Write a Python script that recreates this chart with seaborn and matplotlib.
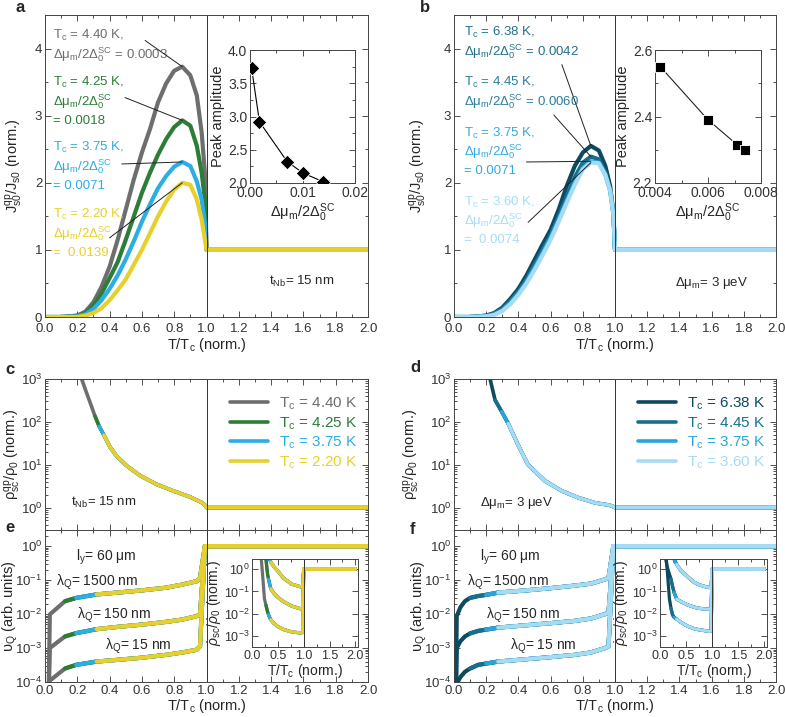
import numpy as np
import seaborn as sns
from matplotlib import pyplot as plt
from matplotlib.ticker import (MultipleLocator, LogLocator, NullFormatter, NullLocator,
                               FormatStrFormatter)

# ---------------- data ----------------
# panels a / b : J_s0^qp / J_s0 versus T/Tc
t_ab = [0, 0.1, 0.2, 0.25, 0.3, 0.35, 0.4, 0.45, 0.5, 0.55, 0.6, 0.65, 0.7, 0.75,
        0.8, 0.85, 0.9, 0.94, 0.97, 0.99, 1.0, 1.5, 2.0]
j_440 = [0, 0, 0.02, 0.08, 0.22, 0.45, 0.75, 1.15, 1.6, 2.05, 2.45, 2.8, 3.2, 3.48,
         3.67, 3.73, 3.6, 3.3, 2.75, 2.15, 1.0, 1.0, 1.0]
j_425 = [0, 0, 0.02, 0.06, 0.17, 0.35, 0.58, 0.82, 1.15, 1.5, 1.85, 2.15, 2.42, 2.65,
         2.83, 2.93, 2.85, 2.55, 2.15, 1.75, 1.0, 1.0, 1.0]
j_375 = [0, 0, 0.01, 0.04, 0.12, 0.25, 0.42, 0.62, 0.86, 1.13, 1.42, 1.68, 1.92, 2.1,
         2.24, 2.31, 2.25, 2.02, 1.75, 1.4, 1.0, 1.0, 1.0]
j_220 = [0, 0, 0.0, 0.02, 0.06, 0.13, 0.25, 0.4, 0.56, 0.78, 1.0, 1.25, 1.5, 1.72,
         1.9, 2.0, 1.97, 1.75, 1.45, 1.15, 1.0, 1.0, 1.0]
j_638 = [0, 0, 0.02, 0.06, 0.14, 0.27, 0.42, 0.62, 0.85, 1.08, 1.3, 1.6, 1.95, 2.25,
         2.45, 2.55, 2.48, 2.25, 1.95, 1.55, 1.0, 1.0, 1.0]
j_445 = [0, 0, 0.02, 0.05, 0.12, 0.24, 0.38, 0.56, 0.78, 1.0, 1.22, 1.5, 1.8, 2.08,
         2.3, 2.39, 2.35, 2.15, 1.9, 1.55, 1.0, 1.0, 1.0]
j_375b = [0, 0, 0.01, 0.04, 0.1, 0.21, 0.35, 0.52, 0.73, 0.95, 1.18, 1.45, 1.73, 2.0,
          2.22, 2.32, 2.3, 2.12, 1.88, 1.52, 1.0, 1.0, 1.0]
j_360 = [0, 0, 0.01, 0.03, 0.09, 0.19, 0.33, 0.5, 0.7, 0.92, 1.15, 1.42, 1.7, 1.97,
         2.2, 2.3, 2.29, 2.12, 1.88, 1.52, 1.0, 1.0, 1.0]

tc_a = ['4.40', '4.25', '3.75', '2.20']
ratio_a = ['0.0003', '0.0018', '0.0071', ' 0.0139']
tc_b = ['6.38', '4.45', '3.75', '3.60']
ratio_b = ['0.0042', '0.0060', '0.0071', ' 0.0074']

# insets a / b : peak amplitude
dmu_a = [0.0003, 0.0018, 0.0071, 0.0101, 0.0139]
peak_a = [3.73, 2.92, 2.32, 2.15, 2.02]
dmu_b = [0.0042, 0.0060, 0.0071, 0.0074]
peak_b = [2.55, 2.39, 2.315, 2.30]

# panels c / d : rho_sc^qp / rho_0
c_t = [0.21, 0.227, 0.258, 0.289, 0.31, 0.336, 0.365, 0.402, 0.443, 0.505, 0.588,
       0.691, 0.794, 0.897, 0.969, 0.99, 1.0, 2.0]
c_rho = [2000, 1000, 468, 224, 135, 78, 49, 26, 16, 9.5, 5.6, 3.5, 2.45, 1.78, 1.32,
         1.15, 1.0, 1.0]
c_start = [0.21, 0.31, 0.336, 0.365]
d_t = [0.21, 0.224, 0.255, 0.296, 0.337, 0.40, 0.46, 0.565, 0.669, 0.772, 0.876,
       0.96, 0.985, 1.0, 2.0]
d_rho = [2000, 1000, 324, 174, 91, 28, 10, 4.2, 2.45, 1.7, 1.29, 1.15, 1.08, 1.0, 1.0]
d_start = [0.21, 0.255, 0.296, 0.337]

# panels e / f : nu_Q for three lambda_Q
e_t = [0.02, 0.03, 0.124, 0.193, 0.32, 0.45, 0.6, 0.75, 0.85, 0.939, 0.96, 0.99, 2.0]
e_1500 = [1e-5, 9.8e-3, 2.4e-2, 3.0e-2, 3.8e-2, 4.3e-2, 5.0e-2, 6.0e-2, 7.4e-2,
          9.3e-2, 0.117, 1.0, 1.0]
e_150 = [1e-5, 1.0e-3, 2.2e-3, 2.75e-3, 3.6e-3, 4.2e-3, 4.9e-3, 5.9e-3, 6.9e-3,
         8.7e-3, 1.0e-2, 1.0, 1.0]
e_15 = [8.9e-5, 1.1e-4, 2.5e-4, 3.2e-4, 4.0e-4, 4.5e-4, 5.2e-4, 6.3e-4, 7.4e-4,
        8.9e-4, 1.12e-3, 1.0, 1.0]
e_start = [0.02, 0.124, 0.193, 0.32]
f_t = [0.01, 0.017, 0.04, 0.068, 0.1, 0.15, 0.2, 0.275, 0.45, 0.6, 0.75, 0.85, 0.938,
       0.96, 0.99, 2.0]
f_1500 = [1e-5, 8.7e-3, 1.6e-2, 2.4e-2, 3.0e-2, 3.4e-2, 3.7e-2, 4.3e-2, 5.0e-2, 5.8e-2,
          6.9e-2, 7.9e-2, 0.105, 0.117, 1.0, 1.0]
f_150 = [1e-5, 1.0e-3, 1.6e-3, 2.2e-3, 2.7e-3, 3.2e-3, 3.5e-3, 4.0e-3, 4.7e-3, 5.4e-3,
         6.3e-3, 7.4e-3, 1.0e-2, 1.12e-2, 1.0, 1.0]
f_15 = [6.3e-5, 8.9e-5, 1.4e-4, 2.0e-4, 2.5e-4, 3.2e-4, 3.5e-4, 4.0e-4, 4.7e-4, 5.4e-4,
        6.3e-4, 7.4e-4, 1.0e-3, 1.12e-3, 1.0, 1.0]
f_start = [0.01, 0.1, 0.2, 0.275]
lambda_q = ['1500', '150', '15']

# insets e / f : rho*_sc / rho*_0
ie_t = [0.15, 0.18, 0.21, 0.24, 0.27, 0.30, 0.32, 0.34, 0.365, 0.42, 0.49, 0.61, 0.77,
        0.95, 0.98, 1.0, 2.0]
ie_top = [200, 80, 40, 20, 10, 6, 4, 2.8, 2.0, 1.3, 0.85, 0.39, 0.21, 0.158, 0.17, 1.0, 1.0]
ie_mid = [60, 20, 10, 5, 2.75, 0.6, 0.35, 0.22, 0.13, 0.085, 0.057, 0.035, 0.022, 0.0166,
          0.018, 1.0, 1.0]
ie_bot = [8, 2.75, 0.4, 0.048, 0.024, 0.0126, 0.009, 0.007, 0.0054, 0.0038, 0.0028, 0.002,
          0.00155, 0.0014, 0.0015, 1.0, 1.0]
ie_start = [0.15, 0.27, 0.32, 0.365]
if_t = [0.05, 0.1, 0.14, 0.18, 0.21, 0.24, 0.27, 0.32, 0.4, 0.53, 0.65, 0.72, 0.84,
        0.94, 0.98, 1.0, 2.0]
if_top = [500, 100, 30, 12, 6, 3.8, 2.75, 1.6, 0.85, 0.45, 0.26, 0.21, 0.17, 0.148, 0.16,
          1.0, 1.0]
if_mid = [80, 4, 1.2, 0.6, 0.36, 0.17, 0.09, 0.045, 0.035, 0.025, 0.02, 0.018, 0.0165,
          0.016, 0.017, 1.0, 1.0]
if_bot = [500, 8, 0.8, 0.048, 0.018, 0.009, 0.007, 0.0058, 0.0042, 0.0028, 0.0022, 0.002,
          0.0018, 0.00165, 0.0017, 1.0, 1.0]
if_start = [0.05, 0.2, 0.27, 0.32]

cols_a = ['#6e6e6e', '#2b7d37', '#2badE6', '#e8d02c']
cols_b = ['#0c4a60', '#166f8d', '#2aa4dc', '#a5dbf3']
txt_b = ['#23708d', '#2a7d9e', '#34aae2', '#a8dcf5']

# ---------------- style ----------------
sns.set_style('ticks')
plt.rcParams['font.family'] = ['Liberation Sans', 'DejaVu Sans']
plt.rcParams['mathtext.fontset'] = 'custom'
plt.rcParams['mathtext.rm'] = 'Liberation Sans'
plt.rcParams['mathtext.it'] = 'Liberation Sans:italic'
plt.rcParams['mathtext.bf'] = 'Liberation Sans:bold'

W, H = 785, 717
fig = plt.figure(figsize=(W / 100, H / 100), dpi=100)


def add_ax(l, t, r, b):
    return fig.add_axes([l / W, 1 - b / H, (r - l) / W, (b - t) / H])


def style(ax, fs=9.5):
    ax.tick_params(which='both', direction='in', top=True, right=True, labelsize=fs,
                   width=0.6, pad=2, colors='#333333')
    ax.tick_params(axis='x', which='major', pad=4)
    ax.tick_params(which='major', length=4)
    ax.tick_params(which='minor', length=2)
    for s in ax.spines.values():
        s.set_linewidth(0.7)
        s.set_color('#444444')


def line(ax, x, y, color, lw, label=None):
    sns.lineplot(x=np.asarray(x), y=np.asarray(y), ax=ax, color=color, lw=lw, sort=False,
                 estimator=None, legend=False, label=label)


def segmented(ax, t, curves, starts, colors, lw, labels=None):
    t = np.asarray(t)
    for i, (start, color) in enumerate(zip(starts, colors)):
        keep = t >= start
        for k, y in enumerate(curves):
            lab = labels[i] if (labels is not None and k == 0) else None
            line(ax, t[keep], np.asarray(y)[keep], color, lw, lab)


def letter(x, y, s):
    fig.text(x / W, 1 - y / H, s, weight='bold', fontsize=12, va='center', ha='left')


def tc_text(tc):
    return r'$\mathregular{T_c}$ = ' + tc + ' K'


xlab = r'T/$\mathregular{T_c}$ (norm.)'
dmu_lab = r'Δμ$_\mathregular{m}$/2$\mathregular{Δ_0^{SC}}$'


def main_linear(ax, curves, colors):
    for y, c in zip(curves, colors):
        line(ax, t_ab, y, c, 3.0)
    ax.axvline(1.0, color='#333333', lw=0.7)
    ax.set_xlim(0, 2)
    ax.set_ylim(0, 4.5)
    ax.xaxis.set_major_locator(MultipleLocator(0.2))
    ax.xaxis.set_minor_locator(MultipleLocator(0.1))
    ax.xaxis.set_major_formatter(FormatStrFormatter('%.1f'))
    ax.yaxis.set_major_locator(MultipleLocator(1))
    ax.yaxis.set_minor_locator(MultipleLocator(0.5))
    ax.set_xlabel(xlab, fontsize=10.5, labelpad=1)
    ax.set_ylabel(r'$\mathregular{J_{s0}^{qp}/J_{s0}}$ (norm.)', fontsize=10.5)
    style(ax)


def labels_with_leaders(ax, curves, tcs, ratios, colors, x0, ys, starts, one_line, dy):
    t = np.asarray(t_ab)
    for y_curve, tc, r, c, y0, st, single in zip(curves, tcs, ratios, colors, ys, starts,
                                                 one_line):
        if single:
            rows = [tc_text(tc) + ',', dmu_lab + ' = ' + r]
        else:
            rows = [tc_text(tc) + ',', dmu_lab, '= ' + r]
        for i, row in enumerate(rows):
            ax.text(x0, y0 - i * dy, row, color=c, fontsize=9.5, va='center', ha='left')
        k = int(np.argmax(y_curve))
        ax.annotate('', xy=(t[k], y_curve[k]), xytext=st,
                    arrowprops=dict(arrowstyle='-', color='#222222', lw=0.7,
                                    shrinkA=0, shrinkB=0))


# ---------------- panel a ----------------
ax_a = add_ax(45, 15, 368, 317)
curves_a = [j_440, j_425, j_375, j_220]
main_linear(ax_a, curves_a, cols_a)
ax_a.yaxis.set_label_coords(-0.062, 0.5)
labels_with_leaders(ax_a, curves_a, tc_a, ratio_a, cols_a, 0.05,
                    [4.19, 3.49, 2.52, 1.53],
                    [(0.62, 4.12), (0.495, 3.27), (0.475, 2.28), (0.40, 1.18)],
                    [True, False, False, False], 0.285)
ax_a.text(1.39, 0.53, r't$_\mathregular{Nb}$= 15 nm', fontsize=9.5, va='center')

ins_a = add_ax(250, 50, 355, 183)
line(ins_a, dmu_a, peak_a, 'k', 0.8)
sns.scatterplot(x=dmu_a, y=peak_a, ax=ins_a, marker='D', s=55, color='k', zorder=3)
ins_a.set_xlim(0, 0.02)
ins_a.set_ylim(2.0, 4.0)
ins_a.xaxis.set_major_locator(MultipleLocator(0.01))
ins_a.xaxis.set_minor_locator(MultipleLocator(0.005))
ins_a.xaxis.set_major_formatter(FormatStrFormatter('%.2f'))
ins_a.yaxis.set_major_locator(MultipleLocator(0.5))
ins_a.yaxis.set_minor_locator(MultipleLocator(0.25))
ins_a.yaxis.set_major_formatter(FormatStrFormatter('%.1f'))
ins_a.set_xlabel(dmu_lab, fontsize=10.5, labelpad=1)
ins_a.set_ylabel('Peak amplitude', fontsize=10.5, labelpad=2)
style(ins_a, 10)
ins_a.tick_params(axis='x', which='major', pad=2)

# ---------------- panel b ----------------
ax_b = add_ax(454, 15, 776, 317)
curves_b = [j_638, j_445, j_375b, j_360]
main_linear(ax_b, curves_b, cols_b)
ax_b.yaxis.set_label_coords(-0.078, 0.5)
labels_with_leaders(ax_b, curves_b, tc_b, ratio_b, txt_b, 0.06,
                    [4.24, 3.49, 2.74, 1.71],
                    [(0.67, 3.76), (0.62, 3.01), (0.45, 2.31), (0.46, 1.41)],
                    [True, True, False, False], 0.28)
ax_b.text(1.37, 0.51, r'Δμ$_\mathregular{m}$= 3 μeV', fontsize=9.5, va='center')

ins_b = add_ax(655, 50, 761, 183)
line(ins_b, dmu_b, peak_b, '#222222', 0.8)
sns.scatterplot(x=dmu_b, y=peak_b, ax=ins_b, marker='s', s=60, color='k', zorder=3)
ins_b.set_xlim(0.004, 0.008)
ins_b.set_ylim(2.2, 2.6)
ins_b.xaxis.set_major_locator(MultipleLocator(0.002))
ins_b.xaxis.set_minor_locator(MultipleLocator(0.001))
ins_b.xaxis.set_major_formatter(FormatStrFormatter('%.3f'))
ins_b.yaxis.set_major_locator(MultipleLocator(0.2))
ins_b.yaxis.set_minor_locator(MultipleLocator(0.1))
ins_b.yaxis.set_major_formatter(FormatStrFormatter('%.1f'))
ins_b.set_xlabel(dmu_lab, fontsize=10.5, labelpad=1)
ins_b.set_ylabel('Peak amplitude', fontsize=10.5, labelpad=2)
style(ins_b, 10)
ins_b.tick_params(axis='x', which='major', pad=2)


# ---------------- panels c / d ----------------
def rho_panel(ax, t, rho, starts, colors, tcs, note):
    segmented(ax, t, [rho], starts, colors, 2.6, labels=[tc_text(tc) for tc in tcs])
    ax.axvline(1.0, color='#333333', lw=0.7)
    ax.set_yscale('log')
    ax.set_xlim(0, 2)
    ax.set_ylim(0.3, 1000)
    ax.xaxis.set_major_locator(MultipleLocator(0.2))
    ax.xaxis.set_minor_locator(MultipleLocator(0.1))
    ax.set_xticklabels([])
    ax.set_xlabel('')
    ax.yaxis.set_major_locator(LogLocator(base=10, numticks=10))
    ax.yaxis.set_minor_locator(LogLocator(base=10, subs=np.arange(2, 10), numticks=10))
    ax.yaxis.set_minor_formatter(NullFormatter())
    ax.set_ylabel(r'$\mathregular{ρ_{sc}^{qp}/ρ_0}$ (norm.)', fontsize=10.5)
    ax.text(0.16, 1.3, note, fontsize=9.5, va='center')
    ax.legend(loc='upper right', bbox_to_anchor=(1.01, 0.98), frameon=False, fontsize=11,
              handlelength=2.5, handletextpad=0.7, labelspacing=0.2,
              labelcolor='linecolor')
    style(ax)


ax_c = add_ax(45, 379, 368, 530)
rho_panel(ax_c, c_t, c_rho, c_start, cols_a, tc_a, r't$_\mathregular{Nb}$= 15 nm')
ax_c.yaxis.set_label_coords(-0.068, 0.5)
ax_d = add_ax(454, 379, 776, 530)
rho_panel(ax_d, d_t, d_rho, d_start, cols_b, tc_b, r'Δμ$_\mathregular{m}$= 3 μeV')
ax_d.yaxis.set_label_coords(-0.098, 0.5)


# ---------------- panels e / f ----------------
def nu_panel(ax, t, curves, starts, colors, text_x):
    segmented(ax, t, curves, starts, colors, 3.0)
    ax.axvline(1.0, color='#333333', lw=0.7)
    ax.set_yscale('log')
    ax.set_xlim(0, 2)
    ax.set_ylim(1e-4, 3)
    ax.xaxis.set_major_locator(MultipleLocator(0.2))
    ax.xaxis.set_minor_locator(MultipleLocator(0.1))
    ax.xaxis.set_major_formatter(FormatStrFormatter('%.1f'))
    ax.yaxis.set_major_locator(LogLocator(base=10, numticks=10))
    ax.yaxis.set_minor_locator(LogLocator(base=10, subs=np.arange(2, 10), numticks=10))
    ax.yaxis.set_minor_formatter(NullFormatter())
    ax.set_xlabel(xlab, fontsize=10.5, labelpad=0)
    ax.set_ylabel(r'$\mathregular{υ_Q}$ (arb. units)', fontsize=10.5)
    ax.yaxis.set_label_coords(-0.078, 0.5)
    ax.text(text_x[0], 0.46, r'l$_\mathregular{y}$= 60 μm', fontsize=10, va='center')
    for lq, xx, yy in zip(lambda_q, text_x[1:], [0.087, 0.009, 0.0011]):
        ax.text(xx, yy, r'λ$_\mathregular{Q}$= ' + lq + ' nm', fontsize=10, va='center')
    style(ax)
    ax.tick_params(axis='x', which='major', pad=2)


def inset_rho(l, r, t, curves, starts, colors, lab_x):
    ax = add_ax(l, 559, r, 647)
    segmented(ax, t, curves, starts, colors, 2.3)
    ax.axvline(1.0, color='#333333', lw=0.7)
    ax.set_yscale('log')
    ax.set_xlim(0, 2.05)
    ax.set_ylim(3.3e-4, 2.8)
    ax.xaxis.set_major_locator(MultipleLocator(0.5))
    ax.xaxis.set_minor_locator(MultipleLocator(0.25))
    ax.xaxis.set_major_formatter(FormatStrFormatter('%.1f'))
    ax.yaxis.set_major_locator(LogLocator(base=10, numticks=10))
    ax.yaxis.set_minor_locator(NullLocator())
    ax.set_xlabel(xlab, fontsize=10, labelpad=0)
    ax.set_ylabel(r'$\dot{\rho}_\mathregular{sc}/\dot{\rho}_\mathregular{0}$ (norm.)',
                  fontsize=10)
    ax.yaxis.set_label_coords(lab_x, 0.5)
    style(ax, 9)
    ax.tick_params(axis='x', which='major', pad=2)
    return ax


ax_e = add_ax(45, 530, 368, 682)
nu_panel(ax_e, e_t, [e_1500, e_150, e_15], e_start, cols_a, [0.19, 0.07, 0.2, 0.37])
inset_rho(252, 358, ie_t, [ie_top, ie_mid, ie_bot], ie_start, cols_a, -0.27)

ax_f = add_ax(454, 530, 776, 682)
nu_panel(ax_f, f_t, [f_1500, f_150, f_15], f_start, cols_b, [0.16, 0.08, 0.2, 0.35])
inset_rho(660, 767, if_t, [if_top, if_mid, if_bot], if_start, cols_b, -0.28)

for x, y, s in [(15, 8, 'a'), (420, 8, 'b'), (5, 370, 'c'), (410, 368, 'd'),
                (5, 528, 'e'), (410, 530, 'f')]:
    letter(x, y, s)

fig.savefig('out.png', dpi=100)
